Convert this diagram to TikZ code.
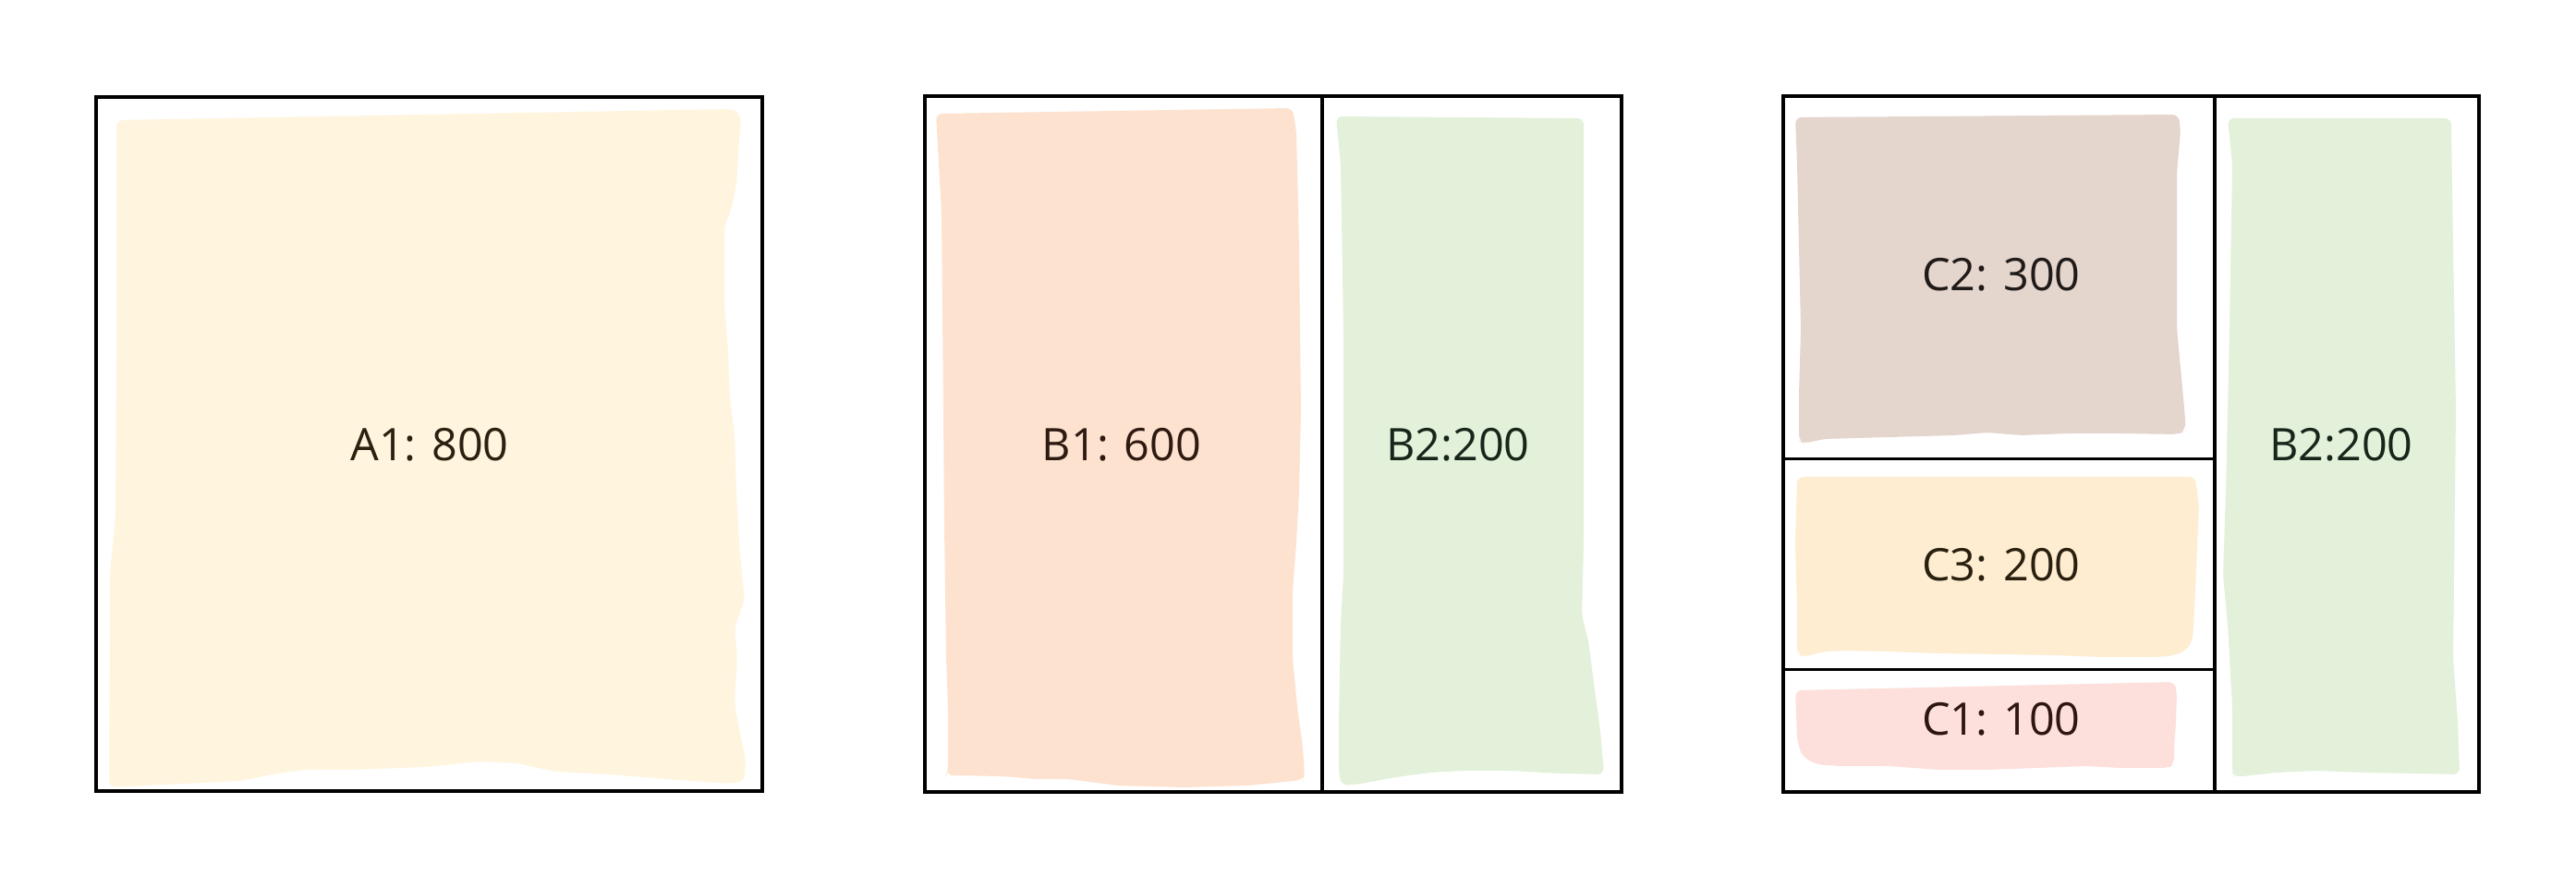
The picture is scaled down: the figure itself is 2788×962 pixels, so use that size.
\documentclass[tikz,border=0pt]{standalone}
\usepackage{fontspec}
\setmainfont{Open Sans}
\begin{document}
\begin{tikzpicture}[x=0.01cm,y=-0.01cm,
  frame/.style={draw=black,line width=0.9pt},
  blob/.style={rounded corners=2pt},
  lbl/.style={font=\fontsize{13.8}{16}\selectfont,inner sep=0pt}]
\definecolor{cA}{HTML}{FFF5DF}
\definecolor{cBone}{HTML}{FDE2CF}
\definecolor{cBtwo}{HTML}{E3F0DA}
\definecolor{cCtwo}{HTML}{E4D5CD}
\definecolor{cCthree}{HTML}{FEEDD0}
\definecolor{cCone}{HTML}{FDE0DC}
\definecolor{tA}{HTML}{2A2110}
\definecolor{tB}{HTML}{2E1A10}
\definecolor{tG}{HTML}{17261A}
\definecolor{tC}{HTML}{201A18}
\definecolor{tY}{HTML}{2A2010}
\definecolor{tR}{HTML}{2E1712}
\fill[white] (0,0) rectangle (2788,962);
% ---- Panel A fill
\fill[cA,blob] (126,130) -- (790,118) -- (800,121) -- (802,135) -- (800,150) -- (797,200) -- (792,225) -- (784,245) -- (784,330) -- (788,380) -- (790,430) -- (795,470) -- (797,530) -- (800,590) -- (804,630) -- (806,650) -- (800,665) -- (795,680) -- (798,710) -- (795,760) -- (800,790) -- (807,820) -- (806,845) -- (790,848) -- (720,843) -- (660,838) -- (600,835) -- (560,826) -- (520,824) -- (460,830) -- (380,833) -- (330,833) -- (300,837) -- (260,845) -- (200,848) -- (118,852) -- (118,820) -- (119,700) -- (119,620) -- (125,560) -- (126,400) -- (126,200) -- cycle;
% ---- Panel B fills
\fill[cBone,blob] (1013,123) -- (1399,117) -- (1403,142) -- (1406,267) -- (1408,445) -- (1406,533) -- (1403,587) -- (1399,640) -- (1399,711) -- (1404,765) -- (1410,809) -- (1412,839) -- (1410,844) -- (1351,850) -- (1280,852) -- (1209,850) -- (1156,843) -- (1120,843) -- (1085,840) -- (1024,839) -- (1026,836) -- (1026,765) -- (1024,711) -- (1022,569) -- (1021,445) -- (1019,231) -- cycle;
\fill[cBtwo,blob] (1446,126) -- (1714,128) -- (1714,133) -- (1714,356) -- (1714,587) -- (1712,667) -- (1719,693) -- (1726,747) -- (1732,791) -- (1736,838) -- (1689,837) -- (1636,834) -- (1582,834) -- (1547,836) -- (1511,841) -- (1467,849) -- (1452,850) -- (1449,836) -- (1449,782) -- (1451,676) -- (1454,622) -- (1454,356) -- (1451,178) -- cycle;
% ---- Panel C fills
\fill[cCtwo,blob] (1943,127) -- (2358,124) -- (2360,142) -- (2356,187) -- (2356,356) -- (2361,409) -- (2365,453) -- (2365,466) -- (2358,470) -- (2294,469) -- (2240,469) -- (2187,471) -- (2151,468) -- (2116,471) -- (2045,473) -- (1974,475) -- (1952,480) -- (1947,477) -- (1947,427) -- (1949,356) -- (1947,267) -- (1945,178) -- cycle;
\fill[cCthree,blob] (1945,516) -- (2376,516) -- (2380,550) -- (2378,590) -- (2375,660) -- (2373,693) -- (2366,704) -- (2350,710) -- (2330,711) -- (2276,711) -- (2222,709) -- (2169,708) -- (2098,707) -- (2045,705) -- (2000,704) -- (1973,705) -- (1952,711) -- (1946,708) -- (1945,702) -- (1945,658) -- (1943,587) -- cycle;
\fill[cCone,blob] (1943,747) -- (2354,738) -- (2356,750) -- (2355,782) -- (2353,809) -- (2353,827) -- (2347,831) -- (2294,831) -- (2258,829) -- (2205,831) -- (2151,833) -- (2098,833) -- (2045,829) -- (1991,829) -- (1965,827) -- (1950,818) -- (1945,800) -- cycle;
\fill[cBtwo,blob] (2411,128) -- (2653,128) -- (2653,142) -- (2655,267) -- (2658,445) -- (2656,622) -- (2655,711) -- (2660,782) -- (2662,838) -- (2614,837) -- (2560,836) -- (2507,834) -- (2463,836) -- (2436,839) -- (2418,841) -- (2416,836) -- (2416,765) -- (2411,676) -- (2406,622) -- (2409,533) -- (2413,356) -- (2416,178) -- cycle;
% ---- Frames
\coordinate (Atl) at (104,105); \coordinate (Abr) at (825,856);
\coordinate (Btl) at (1001,104); \coordinate (Bbr) at (1755,857);
\coordinate (Bdt) at (1431,104); \coordinate (Bdb) at (1431,857);
\coordinate (Ctl) at (1930,104); \coordinate (Cbr) at (2683,857);
\coordinate (Cdt) at (2397,104); \coordinate (Cdb) at (2397,857);
\coordinate (Ch1l) at (1930,496.5); \coordinate (Ch1r) at (2397,496.5);
\coordinate (Ch2l) at (1930,724.5); \coordinate (Ch2r) at (2397,724.5);
\draw[frame] (Atl) rectangle (Abr);
\draw[frame] (Btl) rectangle (Bbr);
\draw[frame] (Bdt) -- (Bdb);
\draw[frame] (Ctl) rectangle (Cbr);
\draw[frame] (Cdt) -- (Cdb);
\draw[frame] (Ch1l) -- (Ch1r);
\draw[frame] (Ch2l) -- (Ch2r);
% ---- Labels
\node[lbl,text=tA] (a1) at (465,481) {A1: 800};
\node[lbl,text=tB] (b1) at (1214,481) {B1: 600};
\node[lbl,text=tG] (b2) at (1578,481) {B2:200};
\node[lbl,text=tC] (c2) at (2166,297) {C2: 300};
\node[lbl,text=tY] (c3) at (2166,611) {C3: 200};
\node[lbl,text=tR] (c1) at (2166,778) {C1: 100};
\node[lbl,text=tG] (cb2) at (2534,481) {B2:200};
\end{tikzpicture}
\end{document}
